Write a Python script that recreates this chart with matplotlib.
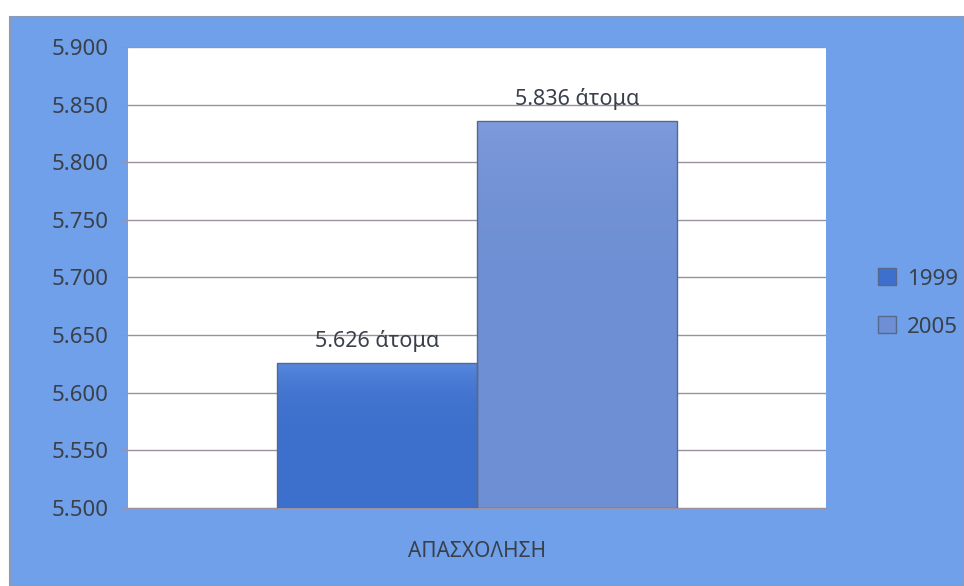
import matplotlib
matplotlib.use("Agg")
import matplotlib.pyplot as plt
import numpy as np
from matplotlib.patches import Rectangle
from matplotlib.ticker import FixedLocator, FuncFormatter

plt.rcParams['font.family'] = ['Noto Sans', 'DejaVu Sans']

category = "ΑΠΑΣΧΟΛΗΣΗ"
years = ["1999", "2005"]
values = [5626, 5836]
unit = "άτομα"
y_ticks = [5500, 5550, 5600, 5650, 5700, 5750, 5800, 5850, 5900]

bar_colors = ["#3d70cc", "#6f8fd4"]
bar_light = ["#5a8ae0", "#7e9bdb"]
panel_color = "#70a0ea"
text_color = "#3a404a"
grid_color = "#9a92a0"


def fmt_thousands(v, _pos=None):
    return f"{int(v):,}".replace(",", ".")


fig = plt.figure(figsize=(9.64, 5.86), dpi=100)
fig.patch.set_facecolor("white")

# blue chart panel behind everything
panel = Rectangle((10 / 964, 0), 1 - 10 / 964, 1 - 17 / 586,
                  transform=fig.transFigure, facecolor=panel_color,
                  edgecolor="#8a9ab8", linewidth=1.5, zorder=-10)
fig.patches.append(panel)

ax = fig.add_axes([128 / 964, 1 - 508 / 586, 698 / 964, 461 / 586])
ax.set_zorder(1)
ax.set_facecolor("white")

width = 0.287
offsets = [-width / 2, width / 2]
for i, (yr, v) in enumerate(zip(years, values)):
    bars = ax.bar(offsets[i], v - y_ticks[0], width=width, bottom=y_ticks[0],
                  color=bar_colors[i], linewidth=0, label=yr, zorder=3)
    rect = bars[0]
    # soft vertical shading inside the bar
    grad = np.linspace(0, 1, 256).reshape(-1, 1)
    c0 = np.array(matplotlib.colors.to_rgb(bar_colors[i]))
    c1 = np.array(matplotlib.colors.to_rgb(bar_light[i]))
    img = c0 + (c1 - c0) * grad[..., None] ** 6
    x0 = rect.get_x()
    im = ax.imshow(img, extent=[x0, x0 + width, y_ticks[0], v],
                   origin="lower", aspect="auto", zorder=3.5)
    im.set_clip_path(rect)
    # outline on top of the shading
    ax.add_patch(Rectangle((x0, y_ticks[0]), width, v - y_ticks[0], fill=False,
                           edgecolor="#56688c", linewidth=1.0, zorder=4))
    ax.text(offsets[i], v + 9, f"{fmt_thousands(v)} {unit}",
            ha="center", va="bottom", fontsize=15.5, color=text_color, zorder=5)

ax.set_xlim(-0.5, 0.5)
ax.set_ylim(y_ticks[0], y_ticks[-1])
ax.yaxis.set_major_locator(FixedLocator(y_ticks))
ax.yaxis.set_major_formatter(FuncFormatter(fmt_thousands))
ax.grid(axis="y", color=grid_color, linewidth=1.0, zorder=1)
ax.set_axisbelow(True)
ax.tick_params(axis="y", labelsize=16, labelcolor=text_color, length=4,
               color=grid_color, pad=10)
ax.set_xticks([0])
ax.set_xticklabels([category], fontsize=15, color=text_color)
ax.tick_params(axis="x", length=0, pad=24)
for s in ["top", "right", "left"]:
    ax.spines[s].set_visible(False)
ax.spines["bottom"].set_color(grid_color)

handles = [Rectangle((0, 0), 1, 1, facecolor=c, edgecolor="#56688c") for c in bar_colors]
fig.legend(handles, years, loc="center left", bbox_to_anchor=(858 / 964, 1 - 303 / 586),
           frameon=False, fontsize=16, labelcolor=text_color, handlelength=0.8,
           handleheight=0.8, handletextpad=0.5, labelspacing=1.2)

fig.savefig("out.png", dpi=100, facecolor=fig.get_facecolor())
